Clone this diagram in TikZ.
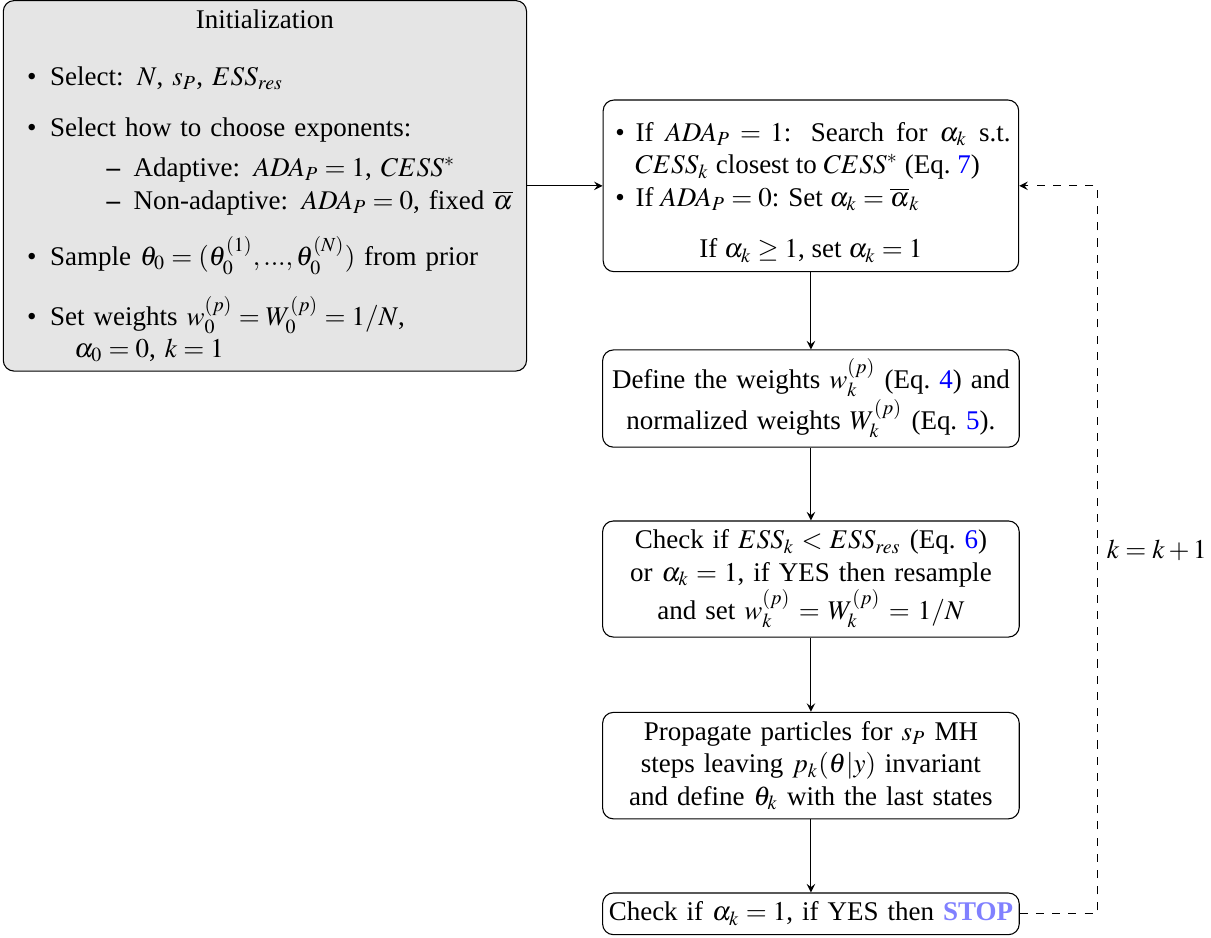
\documentclass[tikz,border=0pt]{standalone}
\usepackage{mathptmx}
\usepackage{fontspec}
\setmainfont{Liberation Serif}
\usepackage{enumitem}
\usetikzlibrary{positioning,arrows}
\tikzstyle{initbox}=[
    draw,rounded corners,fill=gray!20,
    text width=6.58cm,anchor=center
    ]
\tikzstyle{stepbox}=[
    draw,rounded corners,fill=white,inner xsep=1.5pt,
    text width=5.32cm,align=center,anchor=center
    ]
\tikzstyle{flow}=[draw,-stealth]
\newcommand{\eqlink}[1]{\textcolor{blue}{#1}}

\begin{document}
\begin{tikzpicture}
\useasboundingbox (0,0) rectangle (15.77,-12.21);
%initialization
\node[initbox] (init) at (3.45,-2.42) {%
  \centering Initialization\par
  \begin{itemize}[leftmargin=14pt,itemsep=7pt,topsep=7pt,parsep=0pt]
  \item Select: $N$, $s_P$, $ESS_{res}$
  \item Select how to choose exponents:
    \begin{itemize}[leftmargin=31pt,itemsep=0pt,topsep=3pt,parsep=0pt]
    \item Adaptive: $ADA_P=1$, $CESS^*$
    \item Non-adaptive: $ADA_P=0$, fixed $\overline{\alpha}$
    \end{itemize}
  \item Sample $\theta_0=(\theta_0^{(1)},...,\theta_0^{(N)})$ from prior
  \item Set weights $w_0^{(p)}=W_0^{(p)}=1/N$,\newline
    \hspace*{0.9em}$\alpha_0=0$, $k=1$
  \end{itemize}};
%steps of the loop
\node[stepbox,align=justify,inner xsep=3pt,text width=5.2cm] (alpha) at (10.56,-2.42) {%
  \begin{itemize}[leftmargin=9pt,labelsep=4pt,itemsep=0pt,topsep=0pt,parsep=0pt]
  \item If $ADA_P = 1$: Search for $\alpha_k$ s.t.\ $CESS_k$ closest to $CESS^*$ (Eq.~\eqlink{7})
  \item If $ADA_P=0$: Set $\alpha_k=\overline{\alpha}_k$
  \end{itemize}
  \vspace{0.6\baselineskip}
  {\centering If $\alpha_k\geq 1$, set $\alpha_k=1$\par}};
\node[stepbox] (weights) at (10.56,-5.19) {Define the weights $w_k^{(p)}$ (Eq.~\eqlink{4}) and\\
  normalized weights $W_k^{(p)}$ (Eq.~\eqlink{5}).};
\node[stepbox] (resample) at (10.56,-7.54) {Check if $ESS_k<ESS_{res}$ (Eq.~\eqlink{6})\\
  or $\alpha_k=1$, if YES then resample\\
  and set $w_k^{(p)}=W_k^{(p)}=1/N$};
\node[stepbox] (propagate) at (10.56,-9.97) {Propagate particles for $s_P$ MH\\
  steps leaving $p_k(\theta|y)$ invariant\\
  and define $\theta_k$ with the last states};
\node[stepbox] (stop) at (10.56,-11.90) {Check if $\alpha_k=1$, if YES then \textcolor{blue!50}{\textbf{STOP}}};
%arrows
\draw[flow] (init) -- (alpha);
\draw[flow] (alpha) -- (weights);
\draw[flow] (weights) -- (resample);
\draw[flow] (resample) -- (propagate);
\draw[flow] (propagate) -- (stop);
%back to the start
\coordinate (turn) at (14.29,-11.90);
\draw[flow,dashed] (stop) -- (turn) |- node[pos=0.25,right] (kinc) {$k=k+1$} (alpha);
\end{tikzpicture}
\end{document}
